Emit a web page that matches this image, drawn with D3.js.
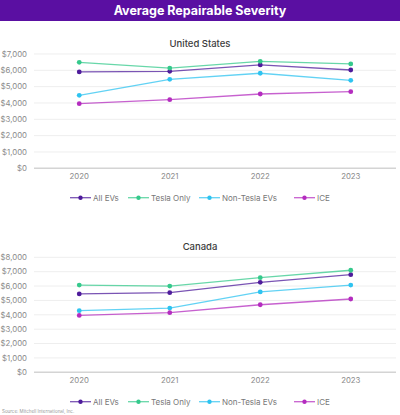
<!DOCTYPE html>
<html>
<head>
<meta charset="utf-8">
<script src="https://cdn.jsdelivr.net/npm/d3@7"></script>
<style>
  body { margin: 0; background: #fff; font-family: Inter, "Noto Sans", sans-serif; }
  svg { display: block; }
</style>
</head>
<body>
<svg id="chart" width="400" height="415"></svg>
<script>
var years = ['2020', '2021', '2022', '2023'];
var seriesNames = ['All EVs', 'Tesla Only', 'Non-Tesla EVs', 'ICE'];
var seriesColors = ['#4e1b9b', '#35c98c', '#2ec3f0', '#b42cbf'];

var usAllEvs = [5900, 5940, 6330, 6020];
var usTesla = [6490, 6140, 6550, 6390];
var usNonTesla = [4470, 5450, 5820, 5390];
var usIce = [3960, 4200, 4550, 4690];
var usTicks = [0, 1000, 2000, 3000, 4000, 5000, 6000, 7000];

var caAllEvs = [5450, 5540, 6260, 6790];
var caTesla = [6070, 6000, 6580, 7100];
var caNonTesla = [4290, 4470, 5590, 6070];
var caIce = [3960, 4150, 4700, 5100];
var caTicks = [0, 1000, 2000, 3000, 4000, 5000, 6000, 7000, 8000];

var svg = d3.select('#chart');

// header band
svg.append('rect').attr('x', 0).attr('y', 0).attr('width', 400).attr('height', 21)
  .attr('fill', '#5a0fa2');
svg.append('text').attr('x', 200).attr('y', 14.5).attr('text-anchor', 'middle')
  .attr('fill', '#fff').attr('font-size', 12.5).attr('font-weight', 700)
  .text('Average Repairable Severity');

function drawPanel(opts) {
  var g = svg.append('g');
  var x = d3.scalePoint().domain(years).range([34, 396]).padding(0.5);
  var y = d3.scaleLinear().domain([0, opts.max]).range([opts.bottom, opts.top]);

  g.append('text').attr('x', 200).attr('y', opts.titleY).attr('text-anchor', 'middle')
    .attr('fill', '#3c3c3c').attr('font-size', 9.5).attr('font-weight', 500)
    .text(opts.title);

  // gridlines
  g.selectAll('line.grid').data(opts.ticks.slice(1)).enter().append('line')
    .attr('class', 'grid')
    .attr('x1', 34).attr('x2', 396)
    .attr('y1', function(d) { return y(d); })
    .attr('y2', function(d) { return y(d); })
    .attr('stroke', '#eeeeee').attr('stroke-width', 1);
  g.append('line').attr('x1', 34).attr('x2', 396)
    .attr('y1', y(0)).attr('y2', y(0))
    .attr('stroke', '#d4d4d4').attr('stroke-width', 1.5);

  var fmt = d3.format('$,');
  g.selectAll('text.ytick').data(opts.ticks).enter().append('text')
    .attr('class', 'ytick')
    .attr('x', 27).attr('y', function(d) { return y(d) + 2.8; })
    .attr('text-anchor', 'end').attr('fill', '#8a8a8a').attr('font-size', 7.8)
    .text(function(d) { return fmt(d); });

  g.selectAll('text.xtick').data(years).enter().append('text')
    .attr('class', 'xtick')
    .attr('x', function(d) { return x(d); }).attr('y', opts.bottom + 11)
    .attr('text-anchor', 'middle').attr('fill', '#8a8a8a').attr('font-size', 7.8)
    .text(function(d) { return d; });

  var line = d3.line()
    .x(function(d, i) { return x(years[i]); })
    .y(function(d) { return y(d); });

  opts.series.forEach(function(vals, si) {
    g.append('path').datum(vals).attr('d', line)
      .attr('fill', 'none').attr('stroke', seriesColors[si])
      .attr('stroke-opacity', 0.75).attr('stroke-width', 1.3);
    g.selectAll('circle.s' + si).data(vals).enter().append('circle')
      .attr('cx', function(d, i) { return x(years[i]); })
      .attr('cy', function(d) { return y(d); })
      .attr('r', 2.4).attr('fill', seriesColors[si]);
  });

  // legend
  var legendX = [70, 128, 199, 294];
  seriesNames.forEach(function(name, si) {
    var lg = g.append('g').attr('transform', 'translate(' + legendX[si] + ',' + opts.legendY + ')');
    lg.append('line').attr('x1', 0).attr('x2', 21).attr('y1', 0).attr('y2', 0)
      .attr('stroke', seriesColors[si]).attr('stroke-opacity', 0.75).attr('stroke-width', 1.3);
    lg.append('circle').attr('cx', 10.5).attr('cy', 0).attr('r', 2.2).attr('fill', seriesColors[si]);
    lg.append('text').attr('x', 23).attr('y', 2.9).attr('fill', '#777')
      .attr('font-size', 8).text(name);
  });
}

drawPanel({
  title: 'United States', titleY: 46.5, top: 168.3 - 7 * 16.33, bottom: 168.3, max: 7000,
  ticks: usTicks, legendY: 197.7,
  series: [usAllEvs, usTesla, usNonTesla, usIce]
});

drawPanel({
  title: 'Canada', titleY: 250, top: 257.3, bottom: 372.3, max: 8000,
  ticks: caTicks, legendY: 401.7,
  series: [caAllEvs, caTesla, caNonTesla, caIce]
});

svg.append('text').attr('x', 2).attr('y', 413).attr('fill', '#999')
  .attr('font-size', 4.5).text('Source: Mitchell International, Inc.');
</script>
</body>
</html>
